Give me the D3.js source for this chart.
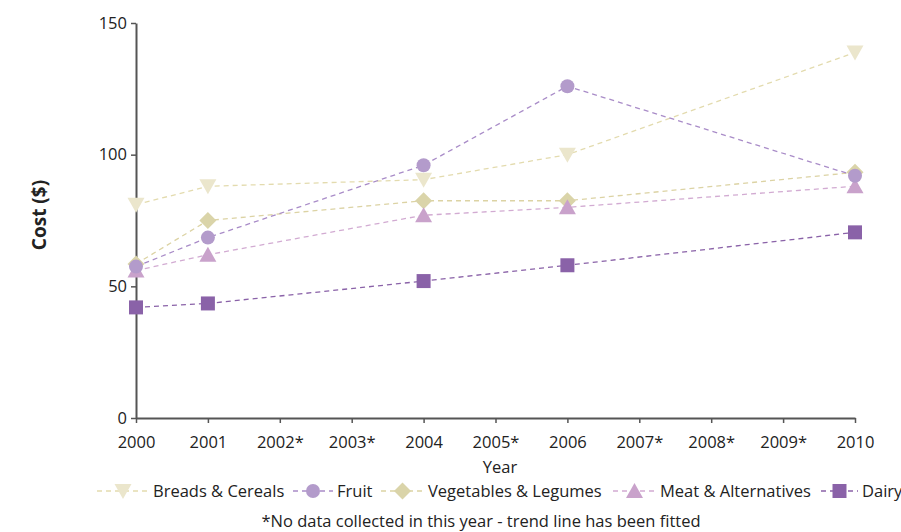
<!DOCTYPE html>
<html><head><meta charset="utf-8">
<script src="https://cdn.jsdelivr.net/npm/d3@7/dist/d3.min.js"></script>
<style>body{margin:0;background:#fff}svg{display:block}text{font-family:"Open Sans",sans-serif;fill:#222}</style>
</head><body><svg id="c" width="901" height="532"></svg>
<script>
const years = [2000, 2001, 2002, 2003, 2004, 2005, 2006, 2007, 2008, 2009, 2010];
const yearLabels = ["2000", "2001", "2002*", "2003*", "2004", "2005*", "2006", "2007*", "2008*", "2009*", "2010"];
const dataYears = [2000, 2001, 2004, 2006, 2010];
const breads = [81, 88, 90.5, 100, 138.8];
const fruit = [57.5, 68.5, 96, 126, 92];
const vegetables = [58.5, 75, 82.5, 82.5, 93.3];
const meat = [56, 62, 77, 80, 88];
const dairy = [42, 43.5, 52, 58, 70.5];
const yTicks = [0, 50, 100, 150];
const seriesNames = ["Breads & Cereals", "Fruit", "Vegetables & Legumes", "Meat & Alternatives", "Dairy"];

const series = [
  {name: seriesNames[0], values: breads, shape: "tdown", fill: "#ebe6cc", line: "#e3dbae"},
  {name: seriesNames[1], values: fruit, shape: "circle", fill: "#b39bcb", line: "#a98cc8"},
  {name: seriesNames[2], values: vegetables, shape: "diamond", fill: "#dad4a9", line: "#dcd3a4"},
  {name: seriesNames[3], values: meat, shape: "tup", fill: "#c9a2cb", line: "#d2abd2"},
  {name: seriesNames[4], values: dairy, shape: "square", fill: "#8a62a8", line: "#8a62a8"}
];
const drawOrder = [0, 2, 3, 1, 4];

const svg = d3.select("#c");
const x = d3.scaleLinear().domain([2000, 2010]).range([136, 855]);
const y = d3.scaleLinear().domain([0, 150]).range([418, 23]);

function shapePath(shape) {
  switch (shape) {
    case "tdown": return "M-8.5,-7 L8.5,-7 L0,8 Z";
    case "tup": return "M0,-8 L8.5,7 L-8.5,7 Z";
    case "diamond": return "M0,-8.5 L8.5,0 L0,8.5 L-8.5,0 Z";
    case "square": return "M-7,-7 L7,-7 L7,7 L-7,7 Z";
    default: return null;
  }
}
function drawMarker(g, shape, fill, cx, cy) {
  if (shape === "circle") g.append("circle").attr("cx", cx).attr("cy", cy).attr("r", 7).attr("fill", fill);
  else g.append("path").attr("d", shapePath(shape)).attr("transform", `translate(${cx},${cy})`).attr("fill", fill);
}

// axes
const xAxis = d3.axisBottom(x).tickValues(years).tickFormat((d, i) => yearLabels[i]).tickSize(5).tickSizeOuter(0);
const gx = svg.append("g").attr("transform", "translate(0,418)").call(xAxis);
gx.select(".domain").attr("stroke", "#555").attr("stroke-width", 2);
gx.selectAll(".tick line").attr("stroke", "#555").attr("stroke-width", 1.5);
gx.selectAll(".tick text").attr("y", 30).attr("dy", null).style("font-size", "16.5px").attr("fill", "#222").style("font-family", "'Open Sans',sans-serif");

const yAxis = d3.axisLeft(y).tickValues(yTicks).tickSize(5).tickSizeOuter(0);
const gy = svg.append("g").attr("transform", "translate(136,0)").call(yAxis);
gy.select(".domain").attr("stroke", "#555").attr("stroke-width", 2);
gy.selectAll(".tick line").attr("stroke", "#555").attr("stroke-width", 1.5);
gy.selectAll(".tick text").attr("x", -9).style("font-size", "16.5px").attr("fill", "#222").style("font-family", "'Open Sans',sans-serif");

// lines
const lineGen = d3.line().x((d, i) => x(dataYears[i])).y(d => y(d));
drawOrder.forEach(k => {
  const s = series[k];
  svg.append("path").attr("d", lineGen(s.values)).attr("fill", "none")
    .attr("stroke", s.line).attr("stroke-width", 1.3).attr("stroke-dasharray", "5,4");
});
// markers
drawOrder.forEach(k => {
  const s = series[k];
  const g = svg.append("g");
  s.values.forEach((v, i) => drawMarker(g, s.shape, s.fill, x(dataYears[i]), y(v)));
});

// axis titles
svg.append("text").attr("x", 500).attr("y", 473).attr("text-anchor", "middle").style("font-size", "16.5px").text("Year");
svg.append("text").attr("transform", "translate(46,215) rotate(-90)").attr("text-anchor", "middle")
  .style("font-size", "19px").style("font-weight", "bold").text("Cost ($)");

// legend
const legendPos = [{lx: 97, tx: 153}, {lx: 293, tx: 337}, {lx: 381, tx: 428}, {lx: 613, tx: 660}, {lx: 821, tx: 862}];
const ly = 491;
series.forEach((s, i) => {
  const p = legendPos[i];
  const g = svg.append("g");
  const w = p.tx - 4 - p.lx;
  g.append("line").attr("x1", p.lx).attr("x2", p.lx + w).attr("y1", ly).attr("y2", ly)
    .attr("stroke", s.line).attr("stroke-width", 1.3).attr("stroke-dasharray", "5,4");
  drawMarker(g, s.shape, s.fill, p.lx + w / 2, ly);
  g.append("text").attr("x", p.tx).attr("y", ly + 6).style("font-size", "16.5px").text(s.name);
});

svg.append("text").attr("x", 481).attr("y", 527).attr("text-anchor", "middle").style("font-size", "16.5px")
  .text("*No data collected in this year - trend line has been fitted");
</script></body></html>
